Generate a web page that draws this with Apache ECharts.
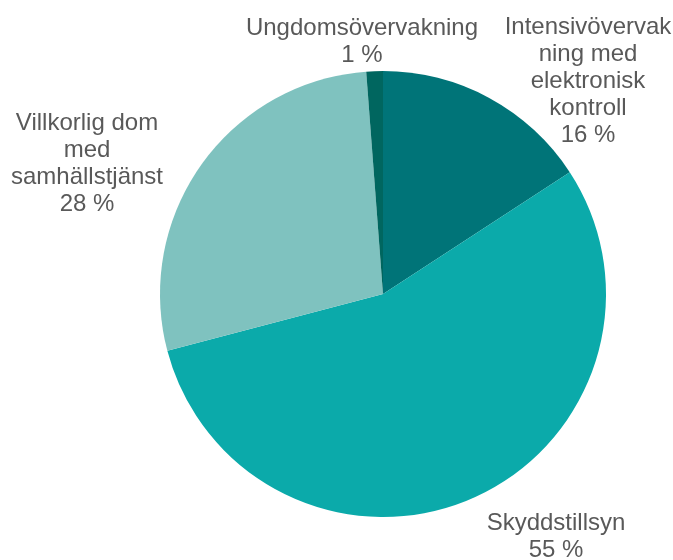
<!DOCTYPE html>
<html>
<head>
<meta charset="utf-8">
<script src="https://cdn.jsdelivr.net/npm/echarts@6/dist/echarts.min.js"></script>
<style>
  html, body { margin: 0; padding: 0; background: #fff; }
  #chart { width: 673px; height: 560px; }
</style>
</head>
<body>
<div id="chart"></div>
<script>
// andel per påföljd, medurs från klockan 12
const categories = [
  'Intensivövervak\nning med\nelektronisk\nkontroll',
  'Skyddstillsyn',
  'Villkorlig dom\nmed\nsamhällstjänst',
  'Ungdomsövervakning'
];
const values = [15.8, 55.1, 27.9, 1.2];
const colors = ['#007478', '#0BAAAA', '#7FC2BF', '#00665F'];

// var etiketterna hamnar (mitt, överkant)
const labelPos = [
  [588, 14],
  [556, 510],
  [87, 110],
  [362, 15]
];

const chart = echarts.init(document.getElementById('chart'));

chart.setOption({
  backgroundColor: '#fff',
  animation: false,
  series: [{
    type: 'pie',
    center: [383, 294],
    radius: [0, 223],
    startAngle: 90,
    clockwise: true,
    data: categories.map((name, i) => ({
      name: name,
      value: values[i],
      itemStyle: { color: colors[i] }
    })),
    itemStyle: { borderWidth: 0 },
    label: {
      show: true,
      position: 'outside',
      formatter: p => p.name + '\n' + Math.round(p.value) + ' %',
      fontFamily: 'Liberation Sans, Arial, sans-serif',
      fontSize: 24,
      lineHeight: 27,
      color: '#595959',
      align: 'center',
      width: 400,
      overflow: 'none'
    },
    labelLine: { show: false },
    labelLayout: params => {
      const pos = labelPos[params.dataIndex];
      return {
        x: pos[0],
        y: pos[1],
        align: 'center',
        verticalAlign: 'top'
      };
    },
    emphasis: { disabled: true }
  }]
});
</script>
</body>
</html>
